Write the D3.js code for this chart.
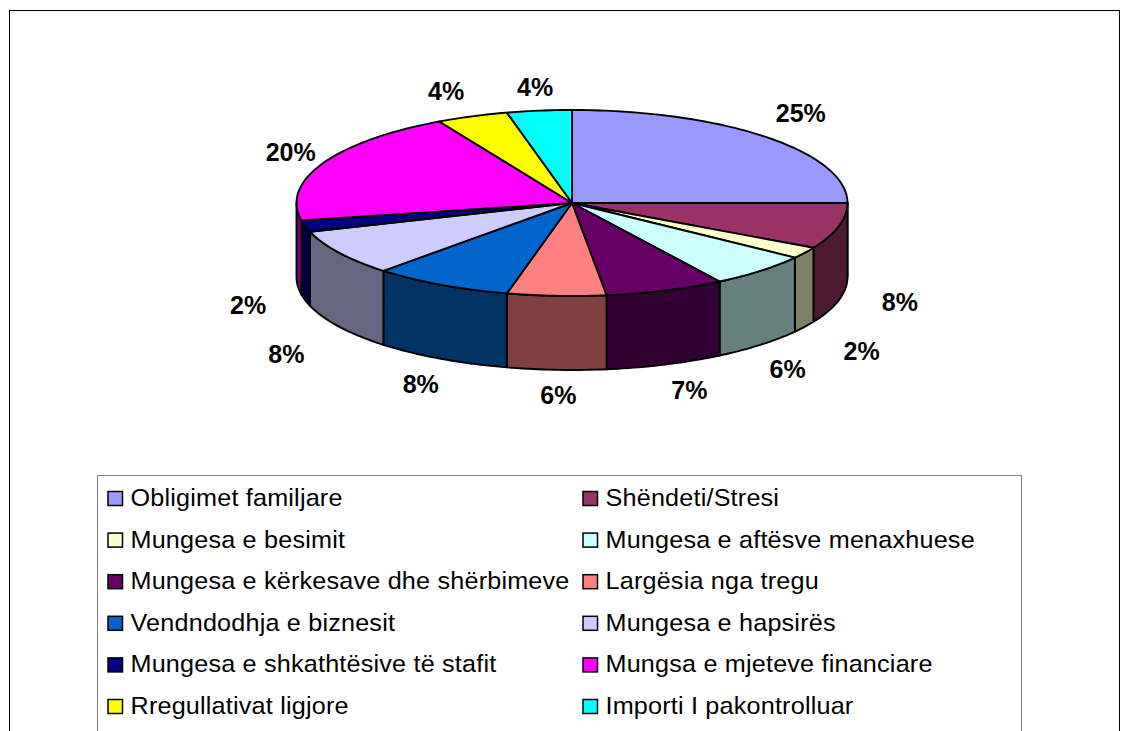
<!DOCTYPE html>
<html><head><meta charset="utf-8">
<script src="https://cdnjs.cloudflare.com/ajax/libs/d3/7.8.5/d3.min.js"></script>
<style>html,body{margin:0;padding:0;background:#fff;overflow:hidden}svg{display:block}</style>
</head><body><svg id="c" width="1129" height="731"></svg>
<script>
const categories=["Obligimet familjare","Shëndeti/Stresi","Mungesa e besimit","Mungesa e aftësve menaxhuese","Mungesa e kërkesave dhe shërbimeve","Largësia nga tregu","Vendndodhja e biznesit","Mungesa e hapsirës","Mungesa e shkathtësive të stafit","Mungsa e mjeteve financiare","Rregullativat ligjore","Importi I pakontrolluar"];
const values=[25,8,2,6,7,5.8,8.2,8,2,20,4.2,3.8];
const colors=["#9999FF","#993366","#FFFFCC","#CCFFFF","#660066","#FF8080","#0066CC","#CCCCFF","#000080","#FF00FF","#FFFF00","#00FFFF"];
const labelNudgeX=[34,61,57,27,24,2,-20,-53,-57,-32,-26,-4];
const labelNudgeY=[-24,76,98,98,99.5,99,99,101,79,-11,-25,-24];

const svg=d3.select("#c");
const cx=572,cy=203,rx=275.5,ry=93,depth=74;
const fmt=d3.format(".0%"),total=d3.sum(values);
const px=a=>cx+rx*Math.sin(a),py=a=>cy-ry*Math.cos(a);
const pie=d3.pie().sort(null).value(d=>d)(values);
const line=d3.line();
function arcPts(a0,a1,dy){const n=Math.max(2,Math.ceil((a1-a0)/0.02));
  return d3.range(n+1).map(i=>{const a=a0+(a1-a0)*i/n;return [px(a),py(a)+dy]});}
const halfTone=c=>{c=d3.rgb(c);return d3.rgb(c.r/2,c.g/2,c.b/2).formatHex()};

svg.append("rect").attr("x",9.5).attr("y",10.5).attr("width",1110).attr("height",740).attr("fill","#fff").attr("stroke","#000").attr("stroke-width",1);

// side walls
const W0=Math.PI/2,W1=Math.PI*1.5;
pie.forEach((d,i)=>{
  const a0=Math.max(d.startAngle,W0),a1=Math.min(d.endAngle,W1);
  if(a1<=a0)return;
  const top=arcPts(a0,a1,0),bot=arcPts(a0,a1,depth).reverse();
  svg.append("path").attr("d",line(top.concat(bot))+"Z")
    .attr("fill",halfTone(colors[i]))
    .attr("stroke","#000").attr("stroke-width",1.9).attr("stroke-linejoin","round");
});
// top faces
pie.forEach((d,i)=>{
  const pts=[[cx,cy]].concat(arcPts(d.startAngle,d.endAngle,0));
  svg.append("path").attr("d",line(pts)+"Z").attr("fill",colors[i])
    .attr("stroke","#000").attr("stroke-width",1.9).attr("stroke-linejoin","round");
});
// percentage labels
pie.forEach((d,i)=>{
  const m=(d.startAngle+d.endAngle)/2;
  svg.append("text").attr("x",px(m)+labelNudgeX[i]).attr("y",py(m)+labelNudgeY[i]+9)
    .attr("text-anchor","middle").attr("font-family","'Liberation Sans',Arial,sans-serif")
    .attr("font-weight","bold").attr("font-size",25).attr("fill","#000").text(fmt(values[i]/total));
});
// legend
svg.append("rect").attr("x",97.5).attr("y",475.5).attr("width",924).attr("height",300).attr("fill","#fff").attr("stroke","#808080").attr("stroke-width",1);
const colX=d3.scaleOrdinal().domain([0,1]).range([107.5,582.5]);
const rowY=d3.scaleLinear().domain([0,5]).range([498,706]);
categories.forEach((c,i)=>{
  const col=i%2,row=(i-col)/2,x=colX(col),y=rowY(row);
  svg.append("rect").attr("x",x+.5).attr("y",y-6.5).attr("width",14.5).attr("height",14).attr("fill",colors[i]).attr("stroke","#000").attr("stroke-width",1.5);
  svg.append("text").attr("transform",`translate(${x+23},${y+8}) scale(1.05,1)`).attr("font-family","'Liberation Sans',Arial,sans-serif")
    .attr("font-size",24).attr("letter-spacing",0.18).attr("fill","#000").text(c);
});
</script></body></html>
